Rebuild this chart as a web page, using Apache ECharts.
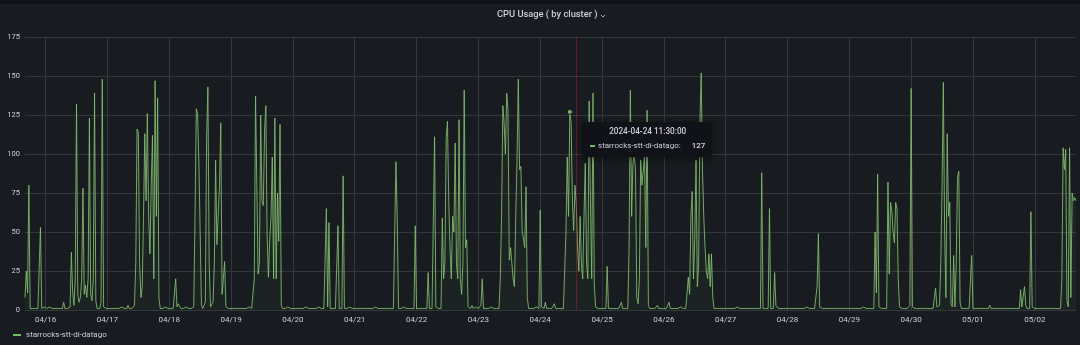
<!DOCTYPE html>
<html>
<head>
<meta charset="utf-8">
<title>CPU Usage ( by cluster )</title>
<script src="https://cdn.jsdelivr.net/npm/echarts@6/dist/echarts.min.js"></script>
<style>
  html, body { margin: 0; padding: 0; background: #111217; }
  #panel { position: absolute; left: 0; top: 4px; width: 1080px; height: 341px; background: #181b1f; }
  #chart { position: absolute; left: 0; top: 0; width: 1080px; height: 345px; }
</style>
</head>
<body>
<div id="panel"></div>
<div id="chart"></div>
<script>
// CPU usage of one cluster, sampled every 30 minutes.
// Each array holds one day's samples; the first day starts at 16:00,
// the last day stops at 16:00.
const seriesName = 'starrocks-stt-di-datago';

const apr15 = [8, 25, 11, 80, 1, 1, 1, 2, 1, 1, 1, 1, 53, 1, 1, 2];
const apr16 = [
  1, 1, 1, 2, 1, 1, 1, 1, 1, 1, 2, 1,
  1, 1, 5, 1, 1, 1, 1, 2, 37, 12, 3, 20,
  132, 10, 5, 8, 20, 78, 10, 16, 8, 20, 123, 10,
  6, 20, 139, 6, 1, 1, 1, 5, 148, 2, 1, 1];
const apr17 = [
  1, 1, 1, 1, 2, 1, 1, 1, 1, 1, 1, 2,
  1, 1, 1, 1, 3, 1, 1, 1, 2, 3, 30, 116,
  114, 30, 8, 15, 60, 113, 70, 126, 60, 36, 80, 112,
  20, 147, 60, 136, 8, 1, 1, 1, 1, 2, 1, 1];
const apr18 = [
  1, 1, 1, 1, 1, 20, 2, 4, 3, 1, 1, 1,
  1, 2, 1, 1, 1, 1, 1, 2, 60, 129, 126, 95,
  50, 3, 1, 2, 5, 110, 143, 30, 2, 3, 5, 30,
  96, 42, 42, 80, 120, 10, 20, 31, 2, 1, 1, 1];
const apr19 = [
  1, 1, 1, 1, 1, 2, 1, 1, 1, 1, 1, 1,
  1, 1, 2, 1, 1, 1, 20, 137, 80, 23, 30, 125,
  70, 67, 115, 131, 47, 21, 45, 60, 98, 20, 123, 20,
  75, 44, 119, 3, 1, 1, 1, 1, 2, 1, 1, 1];
const apr20 = [
  1, 1, 1, 1, 1, 1, 1, 1, 1, 1, 2, 1,
  1, 1, 1, 1, 1, 1, 1, 1, 2, 1, 1, 1,
  1, 1, 65, 2, 56, 1, 1, 1, 1, 1, 1, 54,
  1, 1, 1, 86, 1, 1, 1, 1, 2, 1, 1, 1];
const apr21 = [
  1, 1, 1, 1, 1, 2, 1, 1, 1, 1, 1, 1,
  1, 1, 1, 1, 2, 1, 1, 1, 1, 1, 1, 1,
  1, 1, 1, 1, 1, 2, 1, 1, 95, 59, 1, 1,
  1, 1, 2, 1, 1, 1, 1, 1, 1, 1, 1, 54];
const apr22 = [
  1, 1, 1, 1, 1, 1, 1, 1, 1, 24, 1, 1,
  1, 2, 111, 2, 1, 1, 1, 1, 59, 20, 30, 110,
  121, 70, 40, 20, 60, 50, 107, 30, 20, 122, 20, 10,
  30, 141, 40, 45, 2, 1, 1, 3, 1, 1, 2, 1];
const apr23 = [
  1, 1, 3, 20, 1, 1, 1, 1, 1, 1, 2, 1,
  1, 1, 1, 1, 1, 20, 60, 131, 120, 100, 139, 128,
  32, 40, 30, 20, 15, 60, 96, 148, 90, 92, 51, 50,
  40, 79, 8, 1, 1, 1, 1, 1, 1, 2, 1, 1];
const apr24 = [
  64, 2, 1, 1, 5, 1, 1, 1, 1, 1, 1, 4,
  1, 1, 1, 1, 1, 1, 1, 1, 50, 98, 60, 127,
  120, 70, 51, 80, 68, 40, 25, 60, 30, 20, 60, 94,
  30, 20, 134, 70, 20, 139, 17, 2, 1, 1, 1, 1];
const apr25 = [
  1, 1, 1, 1, 28, 1, 1, 1, 1, 1, 1, 1,
  1, 1, 1, 5, 1, 1, 1, 1, 1, 40, 141, 60,
  94, 100, 90, 8, 4, 20, 96, 80, 89, 100, 40, 128,
  3, 1, 1, 1, 2, 1, 1, 3, 1, 1, 1, 1];
const apr26 = [
  1, 1, 1, 1, 5, 1, 1, 1, 1, 1, 1, 1,
  1, 2, 1, 1, 1, 1, 1, 21, 10, 60, 76, 20,
  45, 96, 15, 30, 120, 152, 90, 60, 40, 25, 20, 36,
  15, 36, 8, 1, 1, 1, 1, 1, 1, 1, 2, 1];
const apr27 = [
  1, 1, 1, 1, 1, 1, 1, 1, 1, 2, 1, 1,
  1, 1, 1, 1, 1, 1, 1, 1, 2, 1, 1, 1,
  1, 1, 1, 1, 88, 1, 1, 1, 1, 1, 65, 1,
  1, 1, 24, 3, 2, 1, 1, 1, 1, 1, 1, 1];
const apr28 = [
  1, 1, 1, 1, 1, 1, 1, 1, 1, 1, 1, 1,
  1, 1, 1, 2, 1, 1, 1, 1, 1, 1, 1, 15,
  49, 2, 1, 1, 1, 1, 1, 1, 1, 1, 2, 1,
  1, 1, 1, 1, 1, 1, 2, 1, 1, 1, 1, 1];
const apr29 = [
  1, 1, 1, 1, 1, 1, 1, 1, 1, 1, 1, 2,
  1, 1, 1, 1, 1, 1, 1, 1, 50, 11, 87, 2,
  1, 1, 1, 1, 1, 1, 82, 23, 69, 64, 50, 43,
  69, 65, 20, 2, 1, 1, 1, 1, 1, 1, 1, 3];
const apr30 = [
  142, 2, 1, 1, 1, 1, 1, 1, 1, 1, 1, 1,
  1, 1, 1, 1, 1, 1, 1, 14, 2, 1, 3, 30,
  80, 146, 50, 8, 113, 60, 69, 4, 2, 35, 2, 30,
  85, 89, 5, 1, 1, 1, 1, 1, 1, 1, 1, 35];
const may01 = [
  1, 1, 1, 1, 1, 1, 1, 1, 1, 1, 1, 1,
  1, 3, 1, 1, 1, 1, 1, 1, 1, 1, 1, 1,
  1, 1, 1, 1, 1, 1, 1, 1, 1, 1, 1, 1,
  1, 13, 2, 1, 15, 3, 1, 1, 1, 63, 2, 1];
const may02 = [
  1, 1, 1, 1, 1, 1, 1, 1, 1, 1, 1, 1,
  1, 1, 1, 1, 1, 1, 1, 1, 1, 20, 104, 90,
  103, 6, 2, 104, 8, 75, 70, 72, 70];

// [date, first half-hour slot of the day, samples]
const days = [
  ['2024-04-15', 32, apr15], ['2024-04-16', 0, apr16], ['2024-04-17', 0, apr17],
  ['2024-04-18', 0, apr18], ['2024-04-19', 0, apr19], ['2024-04-20', 0, apr20],
  ['2024-04-21', 0, apr21], ['2024-04-22', 0, apr22], ['2024-04-23', 0, apr23],
  ['2024-04-24', 0, apr24], ['2024-04-25', 0, apr25], ['2024-04-26', 0, apr26],
  ['2024-04-27', 0, apr27], ['2024-04-28', 0, apr28], ['2024-04-29', 0, apr29],
  ['2024-04-30', 0, apr30], ['2024-05-01', 0, may01], ['2024-05-02', 0, may02]
];

const yMax = 175;
const yStep = 25;
const hoverTime = '2024-04-24 11:30';       // sample shown in the tooltip
const annotationTime = '2024-04-24 14:00';  // red annotation marker

const categories = [];
const values = [];
days.forEach(([date, startSlot, samples]) => {
  samples.forEach((v, i) => {
    const slot = startSlot + i;
    const hh = String(Math.floor(slot / 2)).padStart(2, '0');
    const mm = slot % 2 ? '30' : '00';
    categories.push(date + ' ' + hh + ':' + mm);
    values.push(v);
  });
});
const hoverIndex = categories.indexOf(hoverTime);

const textColor = '#ccccdc';
const gridColor = '#34373c';
const lineColor = '#73BF69';
const isMidnight = (index, value) => value.endsWith(' 00:00');

const chart = echarts.init(document.getElementById('chart'), null, { renderer: 'canvas' });

chart.setOption({
  animation: false,
  backgroundColor: 'transparent',
  textStyle: { fontFamily: 'Roboto' },
  title: {
    text: 'CPU Usage ( by cluster )',
    left: 497,
    top: 10,
    padding: 0,
    textStyle: { color: textColor, fontSize: 9.3, fontWeight: 500, fontFamily: 'Roboto' }
  },
  graphic: [{
    type: 'polyline',
    shape: { points: [[601, 15], [603, 17], [605, 15]] },
    style: { stroke: '#a9a9b4', lineWidth: 1, fill: null },
    silent: true
  }],
  grid: { left: 25, right: 4, top: 37, bottom: 35 },
  legend: {
    data: [seriesName],
    left: 13,
    top: 331,
    padding: 0,
    icon: 'rect',
    itemWidth: 8,
    itemHeight: 2,
    textStyle: { color: textColor, fontSize: 8, fontFamily: 'Roboto' }
  },
  tooltip: {
    trigger: 'axis',
    axisPointer: { type: 'none' },
    showDelay: 0,
    transitionDuration: 0,
    alwaysShowContent: true,
    backgroundColor: '#111217',
    borderColor: '#111217',
    borderWidth: 0,
    padding: [4, 7, 6, 8],
    extraCssText: 'border-radius:3px;box-shadow:0 2px 6px rgba(0,0,0,0.45);',
    position: (point) => [point[0] + 12, point[1] + 10],
    formatter: (params) => {
      const p = params[0];
      return '<div style="font-family:Roboto;color:#ccccdc;">' +
        '<div style="text-align:center;font-size:8.2px;line-height:11px;font-weight:500;margin-bottom:3px;">' +
        p.axisValue + ':00</div>' +
        '<div style="display:flex;align-items:center;font-size:8px;line-height:11px;">' +
        '<span style="display:inline-block;width:5px;height:2px;background:' + lineColor + ';margin-right:3px;"></span>' +
        '<span>' + p.seriesName + ':</span>' +
        '<span style="margin-left:11px;font-weight:600;">' + p.value + '</span>' +
        '</div></div>';
    }
  },
  xAxis: {
    type: 'category',
    data: categories,
    boundaryGap: false,
    axisLine: { show: false },
    axisTick: { show: false },
    axisLabel: {
      interval: isMidnight,
      formatter: (v) => v.slice(5, 10).replace('-', '/'),
      color: textColor,
      fontSize: 8,
      margin: 6
    },
    splitLine: { show: true, interval: isMidnight, lineStyle: { color: gridColor, width: 1 } }
  },
  yAxis: {
    type: 'value',
    min: 0,
    max: yMax,
    interval: yStep,
    axisLine: { show: false },
    axisTick: { show: false },
    axisLabel: { color: textColor, fontSize: 7.5, margin: 5 },
    splitLine: { lineStyle: { color: gridColor, width: 1 } }
  },
  series: [{
    name: seriesName,
    type: 'line',
    data: values,
    showSymbol: false,
    symbol: 'circle',
    symbolSize: 5,
    lineStyle: { color: '#7aae68', width: 1, opacity: 0.85 },
    itemStyle: { color: lineColor },
    areaStyle: { color: 'rgba(115,191,105,0.07)' },
    emphasis: { scale: false, lineStyle: { width: 1 } },
    markLine: {
      silent: true,
      symbol: ['none', 'none'],
      label: { show: false },
      lineStyle: { color: 'rgba(196,22,42,0.45)', width: 1, type: 'solid' },
      data: [{ xAxis: annotationTime }]
    },
    markPoint: {
      silent: true,
      symbol: 'circle',
      symbolSize: 5,
      label: { show: false },
      itemStyle: { color: '#7aae68', borderColor: '#181b1f', borderWidth: 1 },
      data: [{ coord: [hoverTime, values[hoverIndex]] }]
    }
  }]
});

chart.dispatchAction({ type: 'showTip', seriesIndex: 0, dataIndex: hoverIndex });
</script>
</body>
</html>
